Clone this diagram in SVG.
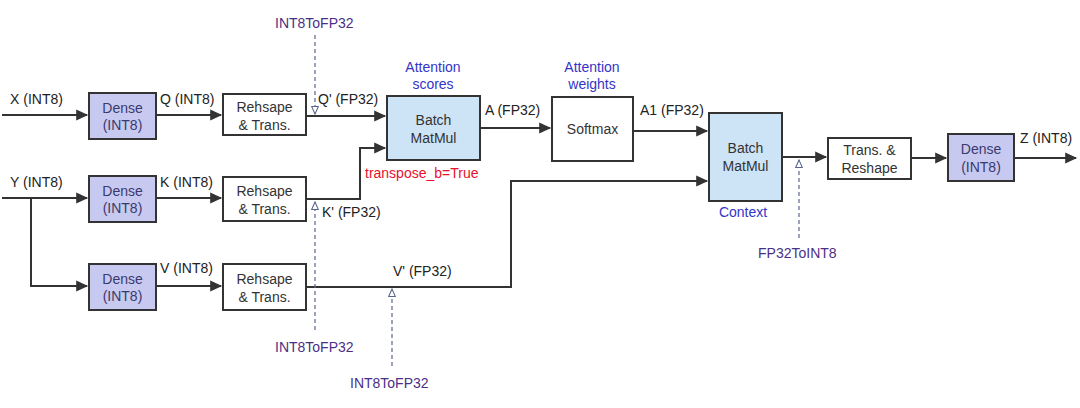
<svg xmlns="http://www.w3.org/2000/svg" width="1080" height="408" viewBox="0 0 1080 408">
<style>
text{font-family:"Liberation Sans",Arial,sans-serif;font-size:14px;fill:#222}
.box{fill:#fff;stroke:#333;stroke-width:2}
.dense{fill:#c7c9f0;stroke:#333;stroke-width:2}
.mm{fill:#cde3f6;stroke:#333;stroke-width:2}
.dt{fill:#3a3a6e;text-anchor:middle}
.bt{fill:#333;text-anchor:middle}
.blue{fill:#3434c8;text-anchor:middle}
.conv{fill:#4a2f86}
.red{fill:#e8102a}
.ln{fill:none;stroke:#333;stroke-width:2}
.dash{fill:none;stroke:#5a6890;stroke-width:1.2;stroke-dasharray:4,3}
</style>
<defs>
<marker id="ah" viewBox="0 0 10 10" refX="9" refY="5" markerWidth="6.5" markerHeight="6" orient="auto"><path d="M0,0.5L10,5L0,9.5z" fill="#333"/></marker>
<marker id="oh" viewBox="0 0 10 10" refX="9" refY="5" markerWidth="7" markerHeight="7" orient="auto"><path d="M0,1L9,5L0,9z" fill="#fff" stroke="#5a6890" stroke-width="1.3"/></marker>
</defs>
<g id="connectors">
<path class="ln" d="M2,115H87" marker-end="url(#ah)"/>
<path class="ln" d="M156,115H221" marker-end="url(#ah)"/>
<path class="ln" d="M306,116H385" marker-end="url(#ah)"/>
<path class="ln" d="M2,198H87" marker-end="url(#ah)"/>
<path class="ln" d="M31,198V286H87" marker-end="url(#ah)"/>
<path class="ln" d="M156,198H221" marker-end="url(#ah)"/>
<path class="ln" d="M156,286H221" marker-end="url(#ah)"/>
<path class="ln" d="M306,199H360V148H385" marker-end="url(#ah)"/>
<path class="ln" d="M306,287H511V181H707" marker-end="url(#ah)"/>
<path class="ln" d="M480,128H550" marker-end="url(#ah)"/>
<path class="ln" d="M633,131H707" marker-end="url(#ah)"/>
<path class="ln" d="M782,157H826" marker-end="url(#ah)"/>
<path class="ln" d="M911,158H946" marker-end="url(#ah)"/>
<path class="ln" d="M1014,158H1076" marker-end="url(#ah)"/>
<path class="dash" d="M315,35V114" marker-end="url(#oh)"/>
<path class="dash" d="M315,330V202" marker-end="url(#oh)"/>
<path class="dash" d="M392,366V289" marker-end="url(#oh)"/>
<path class="dash" d="M799,238V160" marker-end="url(#oh)"/>
</g>
<g id="labels">
<text x="10" y="104">X (INT8)</text>
<text x="160" y="104">Q (INT8)</text>
<text x="10" y="187">Y (INT8)</text>
<text x="160" y="187">K (INT8)</text>
<text x="160" y="273">V (INT8)</text>
<text x="318" y="104">Q' (FP32)</text>
<text x="322" y="217">K' (FP32)</text>
<text x="393" y="276">V' (FP32)</text>
<text x="485" y="115">A (FP32)</text>
<text x="640" y="115">A1 (FP32)</text>
<text x="1020" y="143">Z (INT8)</text>
<text class="red" x="365" y="178">transpose_b=True</text>
<text class="blue" x="433" y="72">Attention</text>
<text class="blue" x="433" y="89">scores</text>
<text class="blue" x="592" y="72">Attention</text>
<text class="blue" x="592" y="89">weights</text>
<text class="blue" x="743" y="217">Context</text>
<text class="conv" x="275" y="28">INT8ToFP32</text>
<text class="conv" x="275" y="352">INT8ToFP32</text>
<text class="conv" x="350" y="388">INT8ToFP32</text>
<text class="conv" x="758" y="258">FP32ToINT8</text>
</g>
<g id="dense1"><rect class="dense" x="89" y="93" width="67" height="46"/><text class="dt" x="122.5" y="113">Dense</text><text class="dt" x="122.5" y="130">(INT8)</text></g>
<g id="dense2"><rect class="dense" x="89" y="176" width="67" height="46"/><text class="dt" x="122.5" y="196">Dense</text><text class="dt" x="122.5" y="213">(INT8)</text></g>
<g id="dense3"><rect class="dense" x="89" y="264" width="67" height="46"/><text class="dt" x="122.5" y="284">Dense</text><text class="dt" x="122.5" y="301">(INT8)</text></g>
<g id="reshape1"><rect class="box" x="223" y="94" width="83" height="41"/><text class="bt" x="264.5" y="112">Rehsape</text><text class="bt" x="264.5" y="130">&amp; Trans.</text></g>
<g id="reshape2"><rect class="box" x="223" y="177" width="83" height="44"/><text class="bt" x="264.5" y="196">Rehsape</text><text class="bt" x="264.5" y="214">&amp; Trans.</text></g>
<g id="reshape3"><rect class="box" x="223" y="264" width="83" height="46"/><text class="bt" x="264.5" y="284">Rehsape</text><text class="bt" x="264.5" y="302">&amp; Trans.</text></g>
<g id="matmul1"><rect class="mm" x="387" y="96" width="93" height="64"/><text class="bt" x="433.5" y="125">Batch</text><text class="bt" x="433.5" y="143">MatMul</text></g>
<g id="softmax"><rect class="box" x="552" y="97" width="81" height="64"/><text class="bt" x="592.5" y="134">Softmax</text></g>
<g id="matmul2"><rect class="mm" x="709" y="113" width="73" height="88"/><text class="bt" x="745.5" y="153">Batch</text><text class="bt" x="745.5" y="171">MatMul</text></g>
<g id="transreshape"><rect class="box" x="828" y="138" width="83" height="41"/><text class="bt" x="869.5" y="155">Trans. &amp;</text><text class="bt" x="869.5" y="173">Reshape</text></g>
<g id="dense4"><rect class="dense" x="948" y="134" width="66" height="47"/><text class="dt" x="981" y="154">Dense</text><text class="dt" x="981" y="172">(INT8)</text></g>
</svg>
